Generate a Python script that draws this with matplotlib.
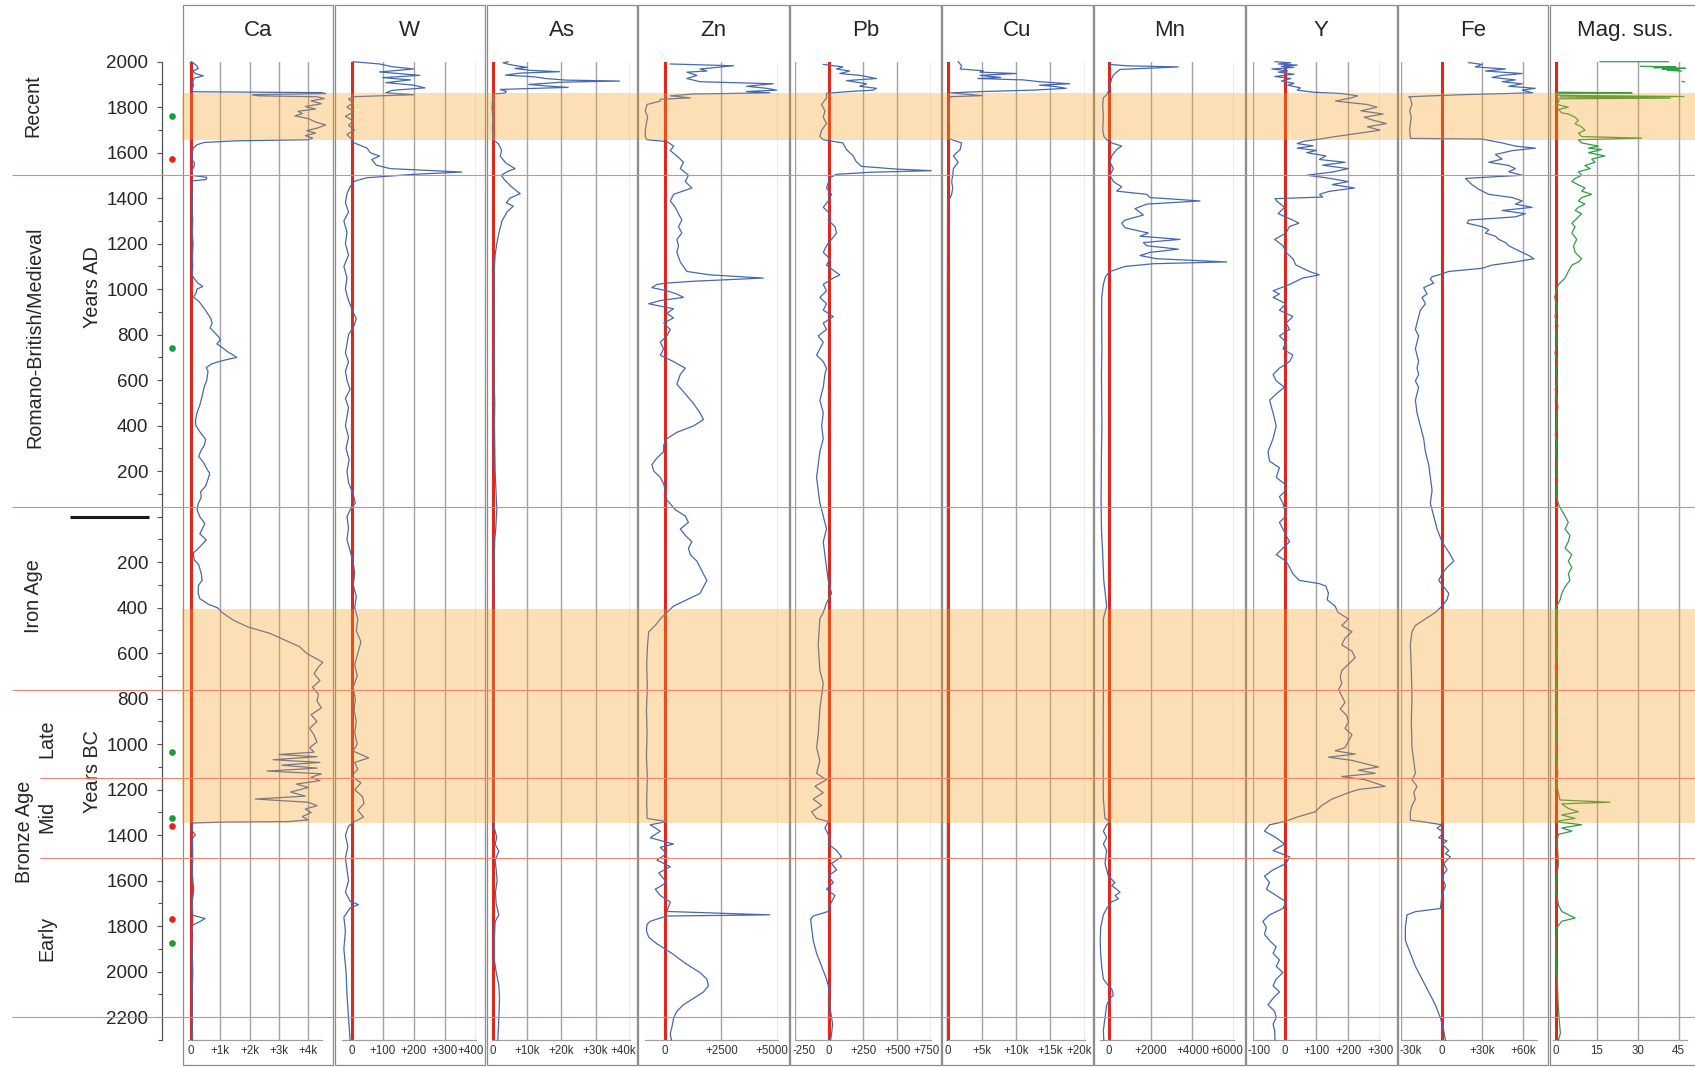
import numpy as np
import matplotlib
matplotlib.use("Agg")
import matplotlib.pyplot as plt
from matplotlib.patches import Rectangle
from matplotlib.transforms import blended_transform_factory, offset_copy

plt.rcParams['font.family'] = ['Liberation Sans', 'DejaVu Sans']

NAN = float('nan')

# ------------------------------------------------------------------
# Core records: (year, value). Years AD positive, years BC negative.
# ------------------------------------------------------------------
ca = [(2000, 20), (1990, 120), (1982, 200), (1970, 250), (1958, 60), (1948, 150), (1938, 420),
      (1928, 120), (1915, 60), (1895, 80), (1880, 50), (1868, 60), (1864, 4450), (1860, 4600),
      (1855, 2100), (1850, 2300), (1846, 4300), (1838, 4550), (1828, 4100), (1815, 4450),
      (1803, 3900), (1792, 4250), (1782, 3650), (1772, 3800), (1762, 3550), (1750, 4000),
      (1735, 4250), (1722, 4600), (1708, 4300), (1697, 3950), (1686, 4250), (1675, 3900),
      (1664, 4150), (1657, 4000), (1652, 1500), (1645, 450), (1635, 200), (1620, 80), (1600, 40),
      (1570, 30), (1555, 120), (1540, 110), (1525, 40), (1500, 30), (1492, 540), (1482, 520),
      (1476, 40), (1440, 30), (1400, 50), (1350, 40), (1300, 60), (1250, 40), (1200, 70),
      (1150, 50), (1100, 60), (1060, 40), (1040, 150), (1025, 250), (1012, 400), (1000, 200),
      (985, 180), (965, 90), (945, 280), (920, 420), (895, 560), (870, 680), (850, 720),
      (830, 650), (810, 800), (790, 950), (775, 1000), (760, 880), (745, 1050), (725, 1250),
      (710, 1450), (700, 1560), (690, 1200), (680, 900), (670, 680), (655, 520), (640, 580),
      (620, 560), (600, 540), (570, 450), (530, 380), (490, 300), (455, 200), (420, 150),
      (400, 170), (370, 320), (340, 500), (315, 460), (290, 340), (265, 260), (240, 420),
      (215, 520), (190, 640), (165, 580), (135, 500), (110, 330), (85, 350), (55, 240), (30, 210),
      (0, 300), (-30, 470), (-55, 380), (-75, 300), (-102, 520), (-130, 320), (-160, 80),
      (-190, 110), (-210, 260), (-250, 350), (-280, 380), (-300, 260), (-335, 240), (-360, 300),
      (-385, 600), (-400, 900), (-425, 1100), (-455, 1450), (-485, 1950), (-513, 2700),
      (-542, 3200), (-571, 3700), (-601, 3950), (-640, 4500), (-660, 4350), (-690, 4200),
      (-720, 4400), (-750, 4150), (-780, 4350), (-810, 4300), (-840, 4450), (-870, 4100),
      (-900, 4300), (-930, 4050), (-960, 4200), (-990, 4300), (-1015, 4050), (-1035, 4200),
      (-1045, 3000), (-1055, 4300), (-1068, 2800), (-1080, 4400), (-1092, 3100), (-1105, 4300),
      (-1118, 2600), (-1130, 4450), (-1145, 4100), (-1160, 4400), (-1175, 3600), (-1190, 4000),
      (-1210, 3400), (-1228, 3900), (-1241, 2200), (-1255, 4000), (-1270, 4300), (-1285, 3900),
      (-1300, 4100), (-1318, 3800), (-1333, 4000), (-1340, 3300), (-1342, 1200), (-1346, 60),
      (-1380, 40), (-1398, 150), (-1415, 50), (-1500, 60), (-1560, 40), (-1640, 90), (-1700, 40),
      (-1752, 60), (-1766, 480), (-1780, 300), (-1795, 60), (-1830, 20), (-1900, 40),
      (-2000, 60), (-2100, 40), (-2200, 40), (-2300, 50)]

w = [(2000, 5), (1990, 90), (1978, 130), (1968, 200), (1955, 90), (1940, 220), (1930, 100),
     (1920, 190), (1908, 110), (1897, 200), (1885, 236), (1874, 130), (1863, 110), (1855, 200),
     (1846, 5), (1835, -10), (1820, 5), (1800, -15), (1780, 8), (1760, -20), (1740, 5),
     (1720, -10), (1700, 10), (1680, -15), (1660, 0), (1645, 5), (1620, 50), (1600, 60),
     (1585, 90), (1570, 65), (1545, 80), (1530, 125), (1515, 355), (1505, 200), (1490, 50),
     (1475, 10), (1450, -5), (1420, -15), (1380, -20), (1340, -10), (1300, -25), (1250, -15),
     (1200, -20), (1150, -10), (1100, -25), (1050, -15), (1000, -20), (950, -10), (900, 5),
     (870, 15), (840, 8), (800, -10), (760, -15), (720, -20), (680, -10), (640, -20), (600, -15),
     (560, -5), (520, -20), (480, -10), (440, -15), (400, -20), (350, -10), (300, -18),
     (250, -8), (200, -15), (150, -10), (100, 5), (60, 12), (30, -5), (0, -15), (-50, -10),
     (-100, -15), (-150, -5), (-200, 5), (-250, 10), (-300, 5), (-350, 15), (-400, 10),
     (-450, 20), (-500, 15), (-550, 30), (-600, 20), (-650, 10), (-700, 18), (-750, 5),
     (-800, 12), (-850, 8), (-900, 15), (-950, 10), (-1000, 18), (-1030, 5), (-1060, 55),
     (-1080, 10), (-1110, 20), (-1140, 0), (-1170, 30), (-1200, 10), (-1230, 35), (-1260, 40),
     (-1290, 20), (-1320, 38), (-1340, 10), (-1360, -10), (-1400, -20), (-1450, -12),
     (-1500, -20), (-1550, -15), (-1600, -10), (-1650, -20), (-1690, -5), (-1705, 22),
     (-1720, -5), (-1760, -25), (-1820, -20), (-1900, -25), (-2000, -18), (-2100, -15),
     (-2200, -10), (-2300, -5)]

as_ = [(2000, 4500), (1995, 3000), (1988, 4800), (1982, 7000), (1975, 10000), (1970, 6500),
       (1962, 11000), (1956, 19500), (1950, 8000), (1941, 3700), (1934, 11800), (1926, 15500),
       (1919, 21500), (1915, 37000), (1910, 20000), (1905, 15500), (1900, 10500), (1893, 16000),
       (1887, 22000), (1882, 10500), (1878, 2200), (1870, 4000), (1862, 3500), (1858, 500),
       (1840, 0), (1800, -200), (1750, 0), (1700, -100), (1660, 100), (1655, 300), (1640, 1600),
       (1612, 2600), (1585, 2200), (1555, 3800), (1530, 6500), (1515, 4000), (1500, 2500),
       (1480, 3500), (1450, 5500), (1420, 8000), (1400, 5000), (1380, 4000), (1365, 6000),
       (1340, 4200), (1300, 2700), (1270, 2200), (1240, 1700), (1200, 1200), (1150, 700),
       (1100, 500), (1000, 400), (900, 500), (800, 400), (700, 500), (600, 400), (500, 600),
       (400, 500), (300, 600), (200, 700), (100, 1000), (30, 1200), (-50, 900), (-100, 600),
       (-200, 400), (-400, 300), (-800, 300), (-1300, 300), (-1370, 500), (-1410, 1200),
       (-1440, 700), (-1470, 1800), (-1510, 700), (-1550, 1000), (-1600, 1300), (-1650, 800),
       (-1700, 1000), (-1750, 1800), (-1780, 700), (-1850, 500), (-1950, 500), (-2000, 1000),
       (-2060, 1800), (-2120, 2000), (-2200, 1800), (-2300, 1500)]

zn = [(1990, 250), (1982, 3030), (1968, 1560), (1959, 1860), (1954, 980), (1940, 1420),
      (1926, 980), (1912, 1560), (1903, 4780), (1892, 3610), (1883, 4490), (1875, 4930),
      (1869, 3610), (1863, 4630), (1858, 1270), (1850, 250), (1841, 1130), (1835, -190),
      (1827, -190), (1812, -775), (1784, -850), (1756, -745), (1728, -805), (1699, -850),
      (1671, -850), (1657, -775), (1649, 100), (1629, 400), (1609, 250), (1586, 540),
      (1558, 830), (1530, 690), (1501, 1050), (1473, 910), (1445, 1200), (1417, 400),
      (1388, 250), (1360, 470), (1332, 610), (1304, 760), (1275, 610), (1247, 760), (1219, 540),
      (1191, 610), (1162, 540), (1120, 690), (1078, 980), (1063, 2000), (1049, 4340),
      (1035, 1270), (1027, 100), (1021, -340), (1007, -560), (993, 100), (979, 540), (964, 830),
      (950, -190), (936, -700), (914, 390), (894, 100), (874, 390), (851, -40), (823, 250),
      (795, 100), (767, -190), (738, -40), (710, -190), (682, 390), (653, 910), (625, 690),
      (583, 540), (540, 910), (498, 1270), (456, 1560), (427, 1710), (399, 1270), (371, 540),
      (343, 100), (314, -40), (286, -40), (258, -340), (229, -560), (201, -480), (173, -190),
      (144, -40), (116, 30), (74, 100), (31, 470), (3, 910), (-25, 1050), (-54, 690),
      (-82, 910), (-110, 1200), (-138, 1050), (-167, 1130), (-195, 1420), (-223, 1560),
      (-251, 1710), (-280, 1860), (-308, 1710), (-337, 1560), (-365, 980), (-393, 390),
      (-421, 100), (-449, -190), (-478, -410), (-506, -700), (-563, -750), (-650, -790),
      (-750, -760), (-850, -800), (-950, -770), (-1050, -800), (-1150, -760), (-1250, -790),
      (-1326, -770), (-1340, 100), (-1354, -630), (-1382, -190), (-1411, -630), (-1439, 390),
      (-1453, -190), (-1481, 100), (-1509, -340), (-1538, 250), (-1566, -260), (-1608, 100),
      (-1637, -410), (-1665, -190), (-1693, 250), (-1735, 100), (-1750, 4630), (-1755, 100),
      (-1778, -630), (-1792, -775), (-1820, -800), (-1848, -700), (-1877, -340), (-1919, 320),
      (-1962, 900), (-2004, 1560), (-2032, 1860), (-2061, 1930), (-2089, 1710), (-2117, 1270),
      (-2145, 830), (-2174, 540), (-2202, 400), (-2244, 320), (-2273, 250), (-2300, 300)]

pb = [(1988, -44), (1977, 100), (1968, 54), (1959, 150), (1948, 78), (1940, 225), (1926, 348),
      (1917, 127), (1903, 275), (1892, 225), (1883, 348), (1875, 324), (1869, 150), (1861, -20),
      (1841, -20), (1812, -56), (1784, -32), (1756, -44), (1728, -20), (1699, -56), (1671, -69),
      (1657, -44), (1643, 100), (1614, 127), (1586, 176), (1560, 200), (1540, 238), (1528, 495),
      (1521, 752), (1514, 300), (1505, 54), (1490, 5), (1445, -20), (1417, 17), (1388, -7),
      (1360, -44), (1332, 5), (1304, -7), (1275, 42), (1247, 54), (1219, 17), (1191, -20),
      (1162, -44), (1134, 5), (1106, -20), (1078, 42), (1063, 78), (1049, 30), (1021, -44),
      (993, -20), (964, -69), (936, -20), (908, -44), (880, 30), (851, -44), (823, -20),
      (795, -81), (767, -44), (738, -69), (710, -93), (682, -44), (653, -20), (625, -32),
      (569, -44), (512, -69), (456, -44), (399, -56), (343, -44), (286, -69), (229, -81),
      (173, -93), (116, -81), (60, -69), (3, -44), (-54, -20), (-110, -44), (-167, -32),
      (-223, -20), (-280, -7), (-337, 17), (-380, -20), (-421, -44), (-449, -69), (-563, -81),
      (-676, -69), (-732, -44), (-845, -69), (-958, -81), (-1015, -93), (-1071, -69),
      (-1128, -93), (-1156, -20), (-1185, -105), (-1213, -44), (-1241, -118), (-1269, -56),
      (-1297, -130), (-1326, -93), (-1340, -7), (-1368, -32), (-1411, 5), (-1439, -7),
      (-1467, 54), (-1495, 91), (-1524, 17), (-1552, 54), (-1580, -7), (-1608, 30),
      (-1637, -20), (-1665, 42), (-1707, 5), (-1735, -7), (-1755, -118), (-1770, -137),
      (-1806, -130), (-1863, -118), (-1919, -93), (-1976, -56), (-2032, -20), (-2061, -7),
      (-2117, 5), (-2174, 10), (-2230, 25), (-2273, 17), (-2300, 10)]

cu = [(2000, 1500), (1982, 2000), (1968, 1800), (1960, 5200), (1954, 4700), (1948, 10000),
      (1940, 4700), (1931, 7700), (1926, 4400), (1920, 11000), (1912, 13400), (1903, 17800),
      (1897, 13400), (1892, 15400), (1883, 17300), (1875, 12500), (1869, 5200), (1863, 400),
      (1851, 5000), (1846, 300), (1812, 200), (1750, 200), (1700, 250), (1662, 200),
      (1655, 800), (1643, 2000), (1614, 1800), (1586, 800), (1558, 1500), (1530, 800),
      (1501, 700), (1473, 550), (1445, 700), (1417, 550), (1400, 300), (1388, -50),
      (1000, -80), (0, -80), (-1000, -80), (-2300, -80)]

mn = [(1988, 48), (1982, 848), (1977, 3330), (1966, 530), (1948, 290), (1940, 210), (1926, 130),
      (1897, 50), (1869, -30), (1855, -110), (1841, -270), (1812, -300), (1756, -270),
      (1699, -300), (1671, -240), (1657, -110), (1643, 130), (1629, 610), (1614, 370),
      (1586, 130), (1558, 50), (1530, 210), (1501, 50), (1473, 210), (1450, 610), (1431, 370),
      (1417, 1810), (1403, 1970), (1388, 4370), (1374, 1810), (1354, 1250), (1338, 1490),
      (1326, 1650), (1304, 770), (1290, 610), (1270, 770), (1247, 1890), (1233, 1490),
      (1219, 3410), (1205, 1650), (1191, 1810), (1176, 3330), (1162, 1970), (1148, 1490),
      (1134, 2290), (1120, 5650), (1112, 2130), (1100, 770), (1078, 50), (1063, -110),
      (1049, -190), (1021, -270), (964, -350), (851, -350), (738, -340), (625, -360),
      (512, -350), (399, -340), (286, -360), (173, -370), (60, -380), (-54, -360),
      (-167, -300), (-280, -250), (-393, -110), (-449, -270), (-563, -270), (-789, -270),
      (-1015, -280), (-1241, -270), (-1326, -190), (-1340, 50), (-1354, -110), (-1382, -270),
      (-1411, -110), (-1439, -270), (-1467, -110), (-1524, -190), (-1552, -110), (-1580, -30),
      (-1608, 290), (-1622, 130), (-1637, 370), (-1651, 530), (-1665, 290), (-1679, 450),
      (-1693, 130), (-1722, -110), (-1750, -270), (-1806, -400), (-1863, -420), (-1919, -400),
      (-1976, -350), (-2032, -270), (-2061, -30), (-2075, 130), (-2103, 210), (-2117, 50),
      (-2145, -110), (-2202, -190), (-2258, -270), (-2300, -250)]

y_el = [(2000, -30), (1995, 20), (1990, -20), (1985, 40), (1980, -10), (1975, 30), (1968, -40),
        (1960, 10), (1954, -20), (1945, 30), (1935, -30), (1926, 20), (1915, -10), (1905, 30),
        (1897, 10), (1885, 50), (1875, 40), (1866, 90), (1860, 180), (1850, 230), (1841, 210),
        (1827, 160), (1812, 260), (1800, 290), (1784, 240), (1770, 310), (1756, 250),
        (1742, 280), (1728, 320), (1714, 260), (1699, 300), (1685, 230), (1671, 160),
        (1660, 110), (1650, 60), (1640, 40), (1630, 90), (1620, 40), (1610, 100), (1600, 70),
        (1586, 130), (1570, 110), (1558, 190), (1545, 120), (1530, 200), (1515, 150),
        (1501, 70), (1490, 130), (1473, 200), (1460, 150), (1445, 220), (1430, 140),
        (1417, 110), (1405, 120), (1398, -30), (1388, -25), (1360, 0), (1332, -20), (1304, 26),
        (1290, 45), (1275, 15), (1247, 5), (1219, -31), (1191, -5), (1162, 5), (1134, 26),
        (1106, 36), (1078, 78), (1063, 109), (1049, 57), (1021, 16), (993, -36), (979, -16),
        (964, -36), (936, 5), (908, -16), (880, 26), (851, 5), (823, 16), (795, -16), (767, 5),
        (738, -5), (710, 26), (682, 16), (653, -16), (625, -36), (597, -26), (569, 0),
        (540, -26), (512, -47), (456, -36), (399, -26), (343, -36), (286, -52), (244, -47),
        (215, -16), (173, -26), (144, 0), (116, 5), (88, -16), (60, -5), (3, 5), (-25, -16),
        (-54, -5), (-82, 5), (-110, 16), (-138, -5), (-167, -26), (-195, 5), (-223, 16),
        (-251, 26), (-280, 47), (-294, 109), (-305, 130), (-337, 138), (-365, 134), (-393, 159),
        (-421, 168), (-449, 201), (-478, 180), (-506, 212), (-534, 190), (-563, 180),
        (-591, 212), (-619, 222), (-648, 201), (-676, 180), (-704, 175), (-732, 180),
        (-760, 170), (-789, 180), (-817, 190), (-845, 175), (-873, 195), (-902, 201),
        (-930, 190), (-958, 212), (-986, 201), (-1015, 190), (-1029, 159), (-1043, 222),
        (-1057, 138), (-1071, 212), (-1100, 295), (-1114, 232), (-1128, 285), (-1142, 180),
        (-1156, 253), (-1185, 316), (-1199, 232), (-1213, 201), (-1241, 149), (-1269, 117),
        (-1297, 96), (-1320, 40), (-1340, 0), (-1354, -47), (-1382, -63), (-1411, -26),
        (-1439, 0), (-1467, -36), (-1495, 16), (-1524, 5), (-1552, -36), (-1580, -63),
        (-1608, -47), (-1637, -57), (-1665, -26), (-1693, 5), (-1722, -5), (-1750, -47),
        (-1778, -68), (-1806, -57), (-1835, -63), (-1863, -47), (-1891, -26), (-1919, -36),
        (-1948, -16), (-1976, -26), (-2004, -5), (-2032, -26), (-2061, -36), (-2089, -16),
        (-2117, -36), (-2145, -52), (-2174, -31), (-2202, -26), (-2230, -36), (-2258, -31),
        (-2300, -30)]

fe = [(1996, 19900), (1988, 29800), (1977, 24800), (1968, 47000), (1959, 32200), (1948, 59300),
      (1940, 44500), (1931, 37100), (1920, 54300), (1912, 44500), (1903, 59300), (1892, 49400),
      (1883, 69000), (1875, 59300), (1863, 67000), (1855, 15000), (1846, -24300),
      (1841, -23100), (1812, -21900), (1784, -23600), (1756, -22400), (1728, -23100),
      (1699, -23600), (1671, -23100), (1663, -23100), (1660, 29800), (1643, 44500),
      (1629, 54300), (1620, 69000), (1609, 51900), (1592, 39600), (1572, 44500), (1558, 34700),
      (1544, 49400), (1530, 54300), (1516, 49400), (1501, 59300), (1487, 17500), (1473, 19900),
      (1459, 22400), (1439, 27300), (1417, 34700), (1403, 51900), (1388, 59300), (1374, 54300),
      (1360, 66600), (1346, 44500), (1332, 61700), (1318, 54300), (1304, 19900), (1290, 18700),
      (1275, 29800), (1261, 34700), (1247, 32200), (1233, 39600), (1219, 42000), (1205, 47000),
      (1191, 49400), (1176, 54300), (1162, 59300), (1148, 64200), (1134, 67900), (1120, 54300),
      (1106, 37100), (1092, 29800), (1078, 5200), (1063, -2200), (1055, -7100), (1044, -8400),
      (1027, -5900), (1007, -13300), (979, -10800), (964, -14500), (936, -12000),
      (908, -15700), (880, -17000), (851, -18200), (823, -19400), (795, -17000), (767, -18200),
      (738, -19400), (710, -18200), (682, -17000), (653, -18200), (625, -17000), (597, -19400),
      (569, -17000), (540, -18200), (512, -19400), (456, -18200), (399, -15700), (343, -13300),
      (286, -12000), (229, -9600), (173, -8400), (116, -7100), (60, -8400), (3, -5900),
      (-54, -3400), (-110, 200), (-167, 6400), (-195, 8900), (-223, 3900), (-251, 200),
      (-280, -2200), (-308, 1500), (-337, 5200), (-365, 3900), (-393, 200), (-421, -4700),
      (-449, -12000), (-478, -19400), (-506, -21900), (-563, -23100), (-676, -22400),
      (-789, -21900), (-902, -22400), (-1015, -21900), (-1128, -19400), (-1156, -21900),
      (-1185, -18200), (-1213, -20600), (-1241, -19400), (-1269, -21900), (-1297, -23100),
      (-1334, -23100), (-1340, -14500), (-1354, 200), (-1368, -3400), (-1388, 1500),
      (-1411, -2200), (-1425, 3900), (-1439, 200), (-1467, 5200), (-1481, 2700), (-1495, 6400),
      (-1524, 1500), (-1552, 3900), (-1580, 200), (-1622, 2700), (-1665, 200), (-1722, -1000),
      (-1736, -19400), (-1750, -25600), (-1806, -26800), (-1863, -26800), (-1919, -23100),
      (-1976, -19400), (-2032, -14500), (-2089, -9600), (-2145, -4700), (-2202, -1000),
      (-2258, 1500), (-2300, 2700)]

mag = [(2000, 16.2), (2000, 41.2), (NAN, NAN),
       (1980, 31), (1977, 44), (1974, 36), (1971, 47.5), (1968, 39), (1965, 45), (1962, 41),
       (1959, 46), (NAN, NAN),
       (1913, 46.3), (1911, 47.2), (NAN, NAN),
       (1866, 0.5), (1864, 17), (1862, 28), (1860, 0.3), (1852, 0.2), (1847, 47), (1845, 1.5),
       (1840, 42), (1837, 0.5), (1826, 1.2), (1812, 0.4), (1800, 4.6), (1790, 1), (1775, 2.2),
       (1770, 4.6), (1756, 7.1), (1742, 8.3), (1728, 7.1), (1713, 9.5), (1699, 10.7),
       (1685, 8.3), (1671, 9.5), (1664, 31.5), (1657, 8.3), (1643, 9.5), (1629, 15.6),
       (1620, 12), (1614, 16.8), (1600, 12), (1586, 18), (1572, 13.2), (1558, 14.4),
       (1544, 10.7), (1530, 12.6), (1516, 8.3), (1501, 9.5), (1487, 7.1), (1473, 5.9),
       (1459, 8.3), (1445, 10.7), (1431, 9.5), (1417, 13.2), (1403, 9.5), (1388, 8.3),
       (1374, 10.7), (1360, 8.3), (1346, 7.1), (1332, 9.5), (1318, 8.3), (1304, 7.1),
       (1290, 5.9), (1275, 7.1), (1247, 5.9), (1219, 7.7), (1191, 6.5), (1162, 7.1),
       (1134, 9.5), (1120, 8.3), (1106, 5.9), (1078, 4.6), (1049, 3.4), (1021, 1), (993, 0.2),
       (964, -0.4), (920, 0.6), (880, -0.3), (840, 0.8), (800, 0), (760, 0.5), (720, -0.3),
       (680, 0.7), (640, 0.1), (600, 0.6), (560, -0.2), (520, 0.4), (480, 0.8), (440, 0.2),
       (400, 0.5), (360, -0.2), (320, 0.4), (280, 0.1), (240, 0.6), (200, 0.3), (160, 0.7),
       (120, 0.2), (80, 0.5), (55, 1), (31, 2), (3, 3.4), (-25, 4.6), (-54, 3.4), (-82, 5.2),
       (-110, 4.6), (-138, 3.4), (-167, 5.9), (-195, 4.6), (-223, 5.9), (-251, 4.6),
       (-280, 5.2), (-308, 3.4), (-337, 2.2), (-365, 1.6), (-393, 0.4), (-421, 0.1),
       (-480, 0.5), (-540, 0), (-600, 0.4), (-660, -0.2), (-720, 0.3), (-780, 0.1),
       (-840, 0.5), (-900, 0), (-960, 0.3), (-1020, -0.1), (-1080, 0.4), (-1130, 0.8),
       (-1180, 0.3), (-1213, 1), (-1245, 1.5), (-1255, 19.9), (-1262, 2.2), (-1282, 4.6),
       (-1297, 8.3), (-1311, 2.2), (-1326, 7.1), (-1340, -0.3), (-1354, 9.5), (-1368, 2.2),
       (-1382, 5.9), (-1396, 1), (-1425, 0.4), (-1467, 0.7), (-1524, 1), (-1580, 0.4),
       (-1637, 0), (-1707, 1), (-1735, 2.2), (-1764, 7.1), (-1778, 2.2), (-1806, 0.4),
       (-1863, 0), (-1950, 0.2), (-2050, 0.6), (-2150, 0.9), (-2230, 1.4), (-2270, 1.7),
       (-2300, 1)]

# Panel titles, axis limits and tick labels
titles = ['Ca', 'W', 'As', 'Zn', 'Pb', 'Cu', 'Mn', 'Y', 'Fe', 'Mag. sus.']
series = [ca, w, as_, zn, pb, cu, mn, y_el, fe, mag]
x_limits = [(-92, 4471), (-32, 400), (-290, 40000), (-863, 5000), (-250, 750),
            (-280, 20000), (-450, 6000), (-100, 300), (-30000, 70000), (-0.9, 48)]
x_ticks = [[0, 1000, 2000, 3000, 4000], [0, 100, 200, 300, 400],
           [0, 10000, 20000, 30000, 40000], [0, 2500, 5000], [-250, 0, 250, 500, 750],
           [0, 5000, 10000, 15000, 20000], [0, 2000, 4000, 6000], [-100, 0, 100, 200, 300],
           [-30000, 0, 30000, 60000], [0, 15, 30, 45]]
x_ticklabels = [['0', '+1k', '+2k', '+3k', '+4k'], ['0', '+100', '+200', '+300', '+400'],
                ['0', '+10k', '+20k', '+30k', '+40k'], ['0', '+2500', '+5000'],
                ['-250', '0', '+250', '+500', '+750'], ['0', '+5k', '+10k', '+15k', '+20k'],
                ['0', '+2000', '+4000', '+6000'], ['-100', '0', '+100', '+200', '+300'],
                ['-30k', '0', '+30k', '+60k'], ['0', '15', '30', '45']]

# Zones and events on the time axis
shaded_spans = [(1655, 1864), (-1345, -407)]
zone_bounds = [1500, 43, -760, -1150, -1500, -2200]
green_dates = [1760, 740, -1036, -1323, -1872]
red_dates = [1571, -1358, -1768]
period_labels = ['Recent', 'Romano-British/Medieval', 'Iron Age', 'Late', 'Mid',
                 'Bronze Age', 'Early', 'Years AD', 'Years BC']

# ------------------------------------------------------------------
W_PX, H_PX = 1695, 1067
fig = plt.figure(figsize=(W_PX / 100, H_PX / 100), dpi=100)
fig.patch.set_facecolor('white')


def fx(px):
    return px / W_PX


def fy(py):
    return 1 - py / H_PX


TOP_PX, BOT_PX = 61.7, 1040.0
YMIN, YMAX = -2300, 2000
ax_b = fy(BOT_PX)
ax_h = (BOT_PX - TOP_PX) / H_PX
LABEL_Y = -11.5 / (BOT_PX - TOP_PX)   # tick-label row, in axes fraction

BLUE = '#4468B2'
GREEN = '#2E9E44'
RED = '#E3261B'
GRID = '#A3A3A3'
TXT = '#262626'

# panel frames and plotting areas (pixel layout)
box_left = [182.7 + 151.9 * i for i in range(10)]
box_w = 150.5
plot_px = [(188.3, 322.0), (341.7, 475.7), (491.7, 629.9), (645.0, 778.2), (795.3, 931.0),
           (946.0, 1084.6), (1099.6, 1234.0), (1252.7, 1380.0), (1401.0, 1536.7),
           (1553.3, 1686.7)]

bottom_labels = []
for i in range(10):
    bl = box_left[i]
    fig.add_artist(Rectangle((fx(bl), fy(1065)), box_w / W_PX, (1065 - 5.3) / H_PX,
                             transform=fig.transFigure, fill=False, ec='#8C8C8C', lw=0.9,
                             zorder=0.5))
    fig.text(fx(bl + box_w / 2), fy(30.5), titles[i], ha='center', va='center',
             fontsize=16, color=TXT)

    l, r = plot_px[i]
    ax = fig.add_axes([fx(l), ax_b, fx(r) - fx(l), ax_h])
    ax.set_facecolor('none')
    ax.set_xlim(*x_limits[i])
    ax.set_ylim(YMIN, YMAX)
    for s in ['top', 'right', 'left']:
        ax.spines[s].set_visible(False)
    ax.spines['bottom'].set_color('#A0A0A0')
    ax.spines['bottom'].set_linewidth(0.9)
    ax.set_yticks([])
    ax.set_xticks([])
    tr = blended_transform_factory(ax.transData, ax.transAxes)
    for t, lab in zip(x_ticks[i], x_ticklabels[i]):
        txt = ax.text(t, LABEL_Y, lab, transform=tr, ha='center', va='center',
                      fontsize=8.3, color='#333333', clip_on=False)
        bottom_labels.append((txt, bl, bl + box_w))
        if t != 0:
            ax.axvline(t, color=GRID, lw=1.0, zorder=1)
    ax.axvline(0, color=RED, lw=2.2, zorder=2)
    arr = np.array(series[i], dtype=float)
    col = GREEN if titles[i] == 'Mag. sus.' else BLUE
    ax.plot(arr[:, 1], arr[:, 0], color=col, lw=0.9, zorder=3, clip_on=False)

# time axis
tax = fig.add_axes([fx(162.3), ax_b, 0.0005, ax_h])
tax.set_facecolor('none')
tax.set_ylim(YMIN, YMAX)
for s in ['top', 'right', 'bottom']:
    tax.spines[s].set_visible(False)
tax.spines['left'].set_color('#505050')
tax.spines['left'].set_linewidth(0.9)
tax.set_xticks([])
major = np.arange(-2200, 2001, 200)
tax.set_yticks(major)
tax.set_yticklabels([str(abs(v)) if v != 0 else '' for v in major], fontsize=13.5, color=TXT)
tax.set_yticks(np.arange(-2300, 2001, 100), minor=True)
tax.tick_params(axis='y', which='major', length=3.6, width=0.8, pad=6.5, color='#505050')
tax.tick_params(axis='y', which='minor', length=2.6, width=0.8, color='#505050')

# overlay: shaded zones, zone boundaries, dated samples
ov = fig.add_axes([0, ax_b, 1, ax_h], zorder=10)
ov.set_xlim(0, W_PX)
ov.set_ylim(YMIN, YMAX)
ov.axis('off')
for lo, hi in shaded_spans:
    ov.axhspan(lo, hi, xmin=182 / W_PX, xmax=1, facecolor='#F69E1D', alpha=0.33, lw=0,
               zorder=1)
for yb in zone_bounds:
    x_start = 40 if yb in (-1150, -1500) else 12
    ov.hlines(yb, x_start, W_PX, color='#F2826A', lw=0.8, zorder=2)
ov.hlines(0, 70, 149, color='#1A1A1A', lw=2.2, zorder=2)
ov.plot([172.3] * len(green_dates), green_dates, 'o', color='#1E9A3A', ms=4.8, mec='none',
        zorder=3)
ov.plot([172.3] * len(red_dates), red_dates, 'o', color=RED, ms=4.8, mec='none', zorder=3)

# period labels (rotated)
label_pos = {'Recent': (33.3, 106), 'Romano-British/Medieval': (34.6, 337),
             'Iron Age': (33.3, 596), 'Late': (46.7, 739), 'Mid': (46.7, 817),
             'Bronze Age': (25.0, 832), 'Early': (46.7, 938), 'Years AD': (92.7, 287),
             'Years BC': (92.7, 772)}
for name in period_labels:
    px, py = label_pos[name]
    fig.text(fx(px), fy(py), name, rotation=90, ha='center', va='center', fontsize=14.2,
             color=TXT)

# keep bottom tick labels inside their own panel frame
fig.canvas.draw()
renderer = fig.canvas.get_renderer()
for txt, lo, hi in bottom_labels:
    bb = txt.get_window_extent(renderer)
    dx = 0.0
    if bb.x1 > hi - 1:
        dx = (hi - 1) - bb.x1
    elif bb.x0 < lo + 2:
        dx = (lo + 2) - bb.x0
    if dx:
        txt.set_transform(offset_copy(txt.get_transform(), fig=fig, x=dx, units='dots'))

fig.savefig('out.png', dpi=100, facecolor='white')
